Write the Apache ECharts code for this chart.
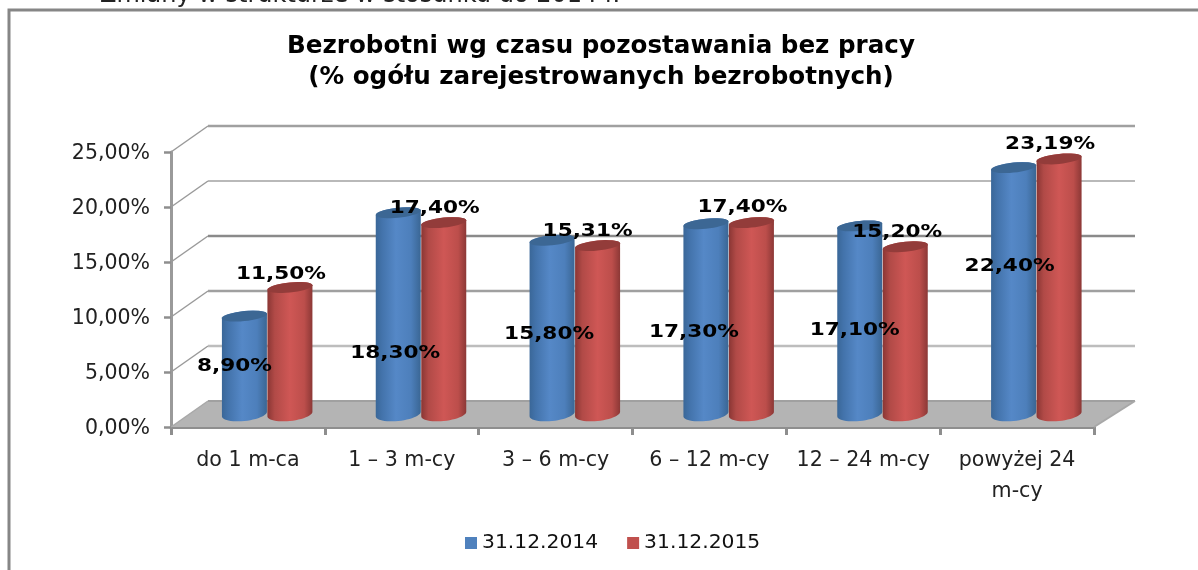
<!DOCTYPE html>
<html><head><meta charset="utf-8">
<style>html,body{margin:0;padding:0;background:#fff}#c{width:1198px;height:570px}</style>
<script src="https://cdn.jsdelivr.net/npm/echarts@6/dist/echarts.min.js"></script>
</head><body><div id="c"></div>
<script>
const categories = ['do 1 m-ca','1 – 3 m-cy','3 – 6 m-cy','6 – 12 m-cy','12 – 24 m-cy','powyżej 24\nm-cy'];
const seriesNames = ['31.12.2014','31.12.2015'];
const values2014 = [8.90,18.30,15.80,17.30,17.10,22.40];
const values2015 = [11.50,17.40,15.31,17.40,15.20,23.19];
const labels2014 = ['8,90%','18,30%','15,80%','17,30%','17,10%','22,40%'];
const labels2015 = ['11,50%','17,40%','15,31%','17,40%','15,20%','23,19%'];
const gridTicks = [0,5,10,15,20,25];

// Depth of the fake 3D box, px
const DX = 37, DY = 26;
const R = 22.5, RY_TOP = 5, RY_BOT = 7, TILT = 0.1;
// Manual nudges of the data labels relative to the top of each cylinder, px
const nudge2014 = [[-10,50],[-3,141],[-3,94],[-12,109],[-5,104],[-4,99]];
const nudge2015 = [[-9,-13],[-9,-14],[-10,-14],[-9,-15],[-8,-14],[-9,-15]];
const gridStyle = {
  0:{stroke:'#8f8f8f',lineWidth:0},
  5:{stroke:'#bdbdbd',lineWidth:2.4},
  10:{stroke:'#a0a0a0',lineWidth:2.4},
  15:{stroke:'#8a8a8a',lineWidth:2.6},
  20:{stroke:'#a2a2a2',lineWidth:1.6},
  25:{stroke:'#a0a0a0',lineWidth:2.4}
};

function ellipsePts(cx, cy, rx, ry, from, to, n, tilt){
  const p = [];
  for(let i=0;i<=n;i++){
    const a = from + (to-from)*i/n;
    const dx = rx*Math.cos(a);
    p.push([cx+dx, cy+ry*Math.sin(a)-tilt*dx]);
  }
  return p;
}
function cylinderSeries(name, values, side, base, stops, topColor){
  return {
    name, type:'custom', coordinateSystem:'cartesian2d', z:3,
    itemStyle:{color:base},
    encode:{x:0,y:1},
    data: values.map((v,i)=>[i,v]),
    renderItem(params, api){
      const c = api.coord([api.value(0), api.value(1)]);
      const b = api.coord([api.value(0), 0]);
      const cx = c[0] + DX/2 + side;
      const yT = c[1] - DY/2, yB = b[1] - DY/2;
      const body = ellipsePts(cx,yT,R,RY_TOP,Math.PI,2*Math.PI,16,TILT)
        .concat(ellipsePts(cx,yB,R,RY_BOT,0,Math.PI,24,TILT));
      return {type:'group',children:[
        {type:'polygon',shape:{points:body},
         style:{fill:{type:'linear',x:0,y:0,x2:1,y2:0,colorStops:stops}}},
        {type:'polygon',shape:{points:ellipsePts(cx,yT,R,RY_TOP,0,2*Math.PI,36,TILT)},
         style:{fill:topColor}}
      ]};
    }
  };
}
function labelSeries(name, values, labels, side, nudges){
  return {
    name, type:'custom', coordinateSystem:'cartesian2d', z:5, silent:true,
    data: values.map((v,i)=>[i,v]),
    renderItem(params, api){
      const i = api.value(0);
      const c = api.coord([i, api.value(1)]);
      return {type:'text', x:c[0]+DX/2+side+nudges[i][0], y:c[1]-DY/2+nudges[i][1], scaleX:1.2,
        style:{text:labels[i],fill:'#000',font:'bold 18px "DejaVu Sans"',textAlign:'center',textVerticalAlign:'middle'}};
    }
  };
}
const wallSeries = {
  name:'wall', type:'custom', coordinateSystem:'cartesian2d', z:1, silent:true,
  data: gridTicks.map(t=>[0,t]),
  renderItem(params, api){
    const t = api.value(1);
    const y = api.coord([0,t])[1];
    const xL = params.coordSys.x, xR = xL + params.coordSys.width;
    const ch = [];
    if(t===0){
      ch.push({type:'polygon',shape:{points:[[xL,y],[xL+DX,y-DY],[xR+DX+4,y-DY],[xR,y]]},
        style:{fill:'#b4b4b4'}});
      ch.push({type:'line',shape:{x1:xL+DX,y1:y-DY,x2:xR+DX+4,y2:y-DY},style:{stroke:'#a0a0a0',lineWidth:2}});
      ch.push({type:'line',shape:{x1:xR,y1:y,x2:xR+DX+4,y2:y-DY},style:{stroke:'#a8a8a8',lineWidth:2}});
      ch.push({type:'line',shape:{x1:xL,y1:y,x2:xL+DX,y2:y-DY},style:{stroke:'#a8a8a8',lineWidth:1.5}});
    }else{
      ch.push({type:'line',shape:{x1:xL,y1:y,x2:xL+DX,y2:y-DY},style:{stroke:'#9a9a9a',lineWidth:1.5}});
      ch.push({type:'line',shape:{x1:xL+DX,y1:y-DY,x2:xR+DX+4,y2:y-DY},style:gridStyle[t]});
    }
    return {type:'group',children:ch};
  }
};
const blueStops = [{offset:0,color:'#3a6798'},{offset:.14,color:'#4373ab'},{offset:.45,color:'#5588c7'},{offset:.78,color:'#4d7fbb'},{offset:1,color:'#3a6694'}];
const redStops = [{offset:0,color:'#8a3634'},{offset:.16,color:'#b14a47'},{offset:.5,color:'#cf5755'},{offset:.82,color:'#bc4e4b'},{offset:1,color:'#8c3836'}];

const chart = echarts.init(document.getElementById('c'));
chart.setOption({
  animation:false,
  backgroundColor:'#fff',
  title:{
    text:'Bezrobotni wg czasu pozostawania bez pracy\n(% ogółu zarejestrowanych bezrobotnych)',
    left:596, top:26, textAlign:'center',
    textStyle:{fontFamily:'DejaVu Sans',fontWeight:'bold',fontSize:24.6,color:'#000',lineHeight:31}
  },
  graphic:[
    {type:'polyline',silent:true,shape:{points:[[9,570],[9,10],[1198,10]]},style:{stroke:'#868686',fill:null,lineWidth:3}},
    {type:'text',silent:true,x:100,y:-16,style:{text:'Zmiany w strukturze w stosunku do 2014 r.',fill:'#222',font:'24px "DejaVu Sans"'}}
  ],
  legend:{
    data:seriesNames, left:460, top:528, itemWidth:12, itemHeight:12, itemGap:29, icon:'rect',
    textStyle:{fontFamily:'DejaVu Sans',fontSize:20.3,color:'#111'}
  },
  grid:{left:171,top:152,width:923,height:275},
  xAxis:{
    type:'category', data:categories,
    axisLine:{lineStyle:{color:'#8e8e8e',width:3}},
    axisTick:{show:true,alignWithLabel:false,length:8,lineStyle:{color:'#8e8e8e',width:3}},
    axisLabel:{interval:0,margin:18,fontFamily:'DejaVu Sans',fontSize:20.6,lineHeight:31,color:'#222',hideOverlap:false}
  },
  yAxis:{
    type:'value', min:0, max:25, interval:5,
    splitLine:{show:false},
    axisLine:{show:true,lineStyle:{color:'#9a9a9a',width:3}},
    axisTick:{show:true,length:7,lineStyle:{color:'#8e8e8e',width:2.5}},
    axisLabel:{margin:21,verticalAlign:'top',lineHeight:4,fontFamily:'DejaVu Sans',fontSize:20.5,color:'#222',
      formatter:v=>v.toFixed(2).replace('.',',')+'%'}
  },
  series:[
    wallSeries,
    cylinderSeries(seriesNames[0],values2014,-22,'#4f81bd',blueStops,'#3c6794'),
    cylinderSeries(seriesNames[1],values2015,23.5,'#c0504d',redStops,'#933c3a'),
    labelSeries('l14',values2014,labels2014,-22,nudge2014),
    labelSeries('l15',values2015,labels2015,23.5,nudge2015)
  ]
});
</script></body></html>
